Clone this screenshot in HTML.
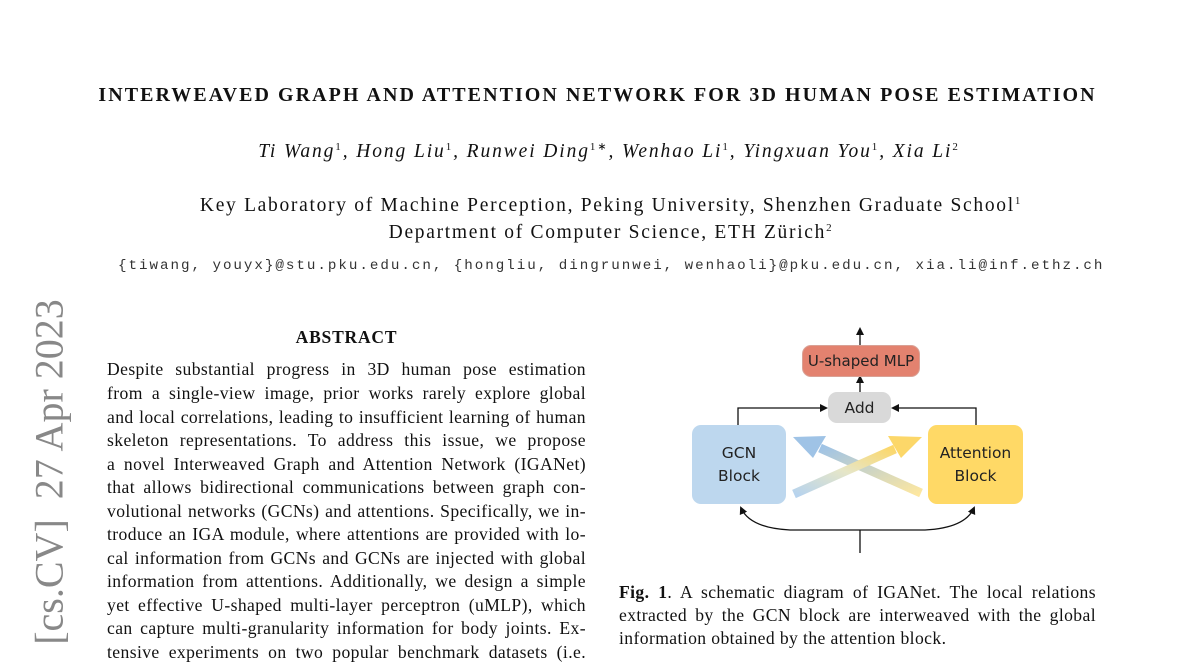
<!DOCTYPE html>
<html><head><meta charset="utf-8"><style>
body{margin:0;width:1200px;height:648px;background:#fff;position:relative;overflow:hidden;font-family:"Liberation Serif",serif;color:#111}
.a{position:absolute;white-space:nowrap}
.j{position:absolute;white-space:nowrap;text-align:justify;text-align-last:justify;font-size:17.6px;line-height:23.5px;letter-spacing:0.4px}
sup{font-size:11px;vertical-align:7px;line-height:0;font-style:normal}
.box{position:absolute;border-radius:9px;font-family:"DejaVu Sans",sans-serif;display:flex;align-items:center;justify-content:center;text-align:center;color:#222}
</style></head><body>
<div class="a" style="left:0;width:1195px;text-align:center;top:84px;font-weight:bold;font-size:20px;letter-spacing:2.05px">INTERWEAVED GRAPH AND ATTENTION NETWORK FOR 3D HUMAN POSE ESTIMATION</div>
<div class="a" style="left:0;width:1218px;text-align:center;top:141px;font-style:italic;font-size:19.5px;letter-spacing:1.9px">Ti Wang<sup>1</sup>, Hong Liu<sup>1</sup>, Runwei Ding<sup>1∗</sup>, Wenhao Li<sup>1</sup>, Yingxuan You<sup>1</sup>, Xia Li<sup>2</sup></div>
<div class="a" style="left:0;width:1222px;text-align:center;top:195px;font-size:19.5px;letter-spacing:1.7px">Key Laboratory of Machine Perception, Peking University, Shenzhen Graduate School<sup>1</sup></div>
<div class="a" style="left:0;width:1222px;text-align:center;top:222px;font-size:19.5px;letter-spacing:1.7px">Department of Computer Science, ETH Zürich<sup>2</sup></div>
<div class="a" style="left:118px;top:258px;font-family:'Liberation Mono',monospace;font-size:14.2px;letter-spacing:1.98px;color:#333">{tiwang, youyx}@stu.pku.edu.cn, {hongliu, dingrunwei, wenhaoli}@pku.edu.cn, xia.li@inf.ethz.ch</div>
<div class="a" style="left:49px;top:472px;transform:translate(-50%,-50%) rotate(-90deg);font-size:40px;color:#888">[cs.CV]&nbsp; 27 Apr 2023</div>
<div class="a" style="left:107px;width:479px;text-align:center;top:327px;font-weight:bold;font-size:17.5px;letter-spacing:0.8px">ABSTRACT</div>
<div class="j" style="left:107px;width:479px;top:358px">Despite substantial progress in 3D human pose estimation</div>
<div class="j" style="left:107px;width:479px;top:382px">from a single-view image, prior works rarely explore global</div>
<div class="j" style="left:107px;width:479px;top:406px">and local correlations, leading to insufficient learning of human</div>
<div class="j" style="left:107px;width:479px;top:429px">skeleton representations. To address this issue, we propose</div>
<div class="j" style="left:107px;width:479px;top:453px">a novel Interweaved Graph and Attention Network (IGANet)</div>
<div class="j" style="left:107px;width:479px;top:476px">that allows bidirectional communications between graph con-</div>
<div class="j" style="left:107px;width:479px;top:500px">volutional networks (GCNs) and attentions. Specifically, we in-</div>
<div class="j" style="left:107px;width:479px;top:523px">troduce an IGA module, where attentions are provided with lo-</div>
<div class="j" style="left:107px;width:479px;top:547px">cal information from GCNs and GCNs are injected with global</div>
<div class="j" style="left:107px;width:479px;top:570px">information from attentions. Additionally, we design a simple</div>
<div class="j" style="left:107px;width:479px;top:594px">yet effective U-shaped multi-layer perceptron (uMLP), which</div>
<div class="j" style="left:107px;width:479px;top:617px">can capture multi-granularity information for body joints. Ex-</div>
<div class="j" style="left:107px;width:479px;top:641px">tensive experiments on two popular benchmark datasets (i.e.</div>
<div class="j" style="left:619px;width:477px;top:581px"><b>Fig. 1</b>. A schematic diagram of IGANet. The local relations</div>
<div class="j" style="left:619px;width:477px;top:604px">extracted by the GCN block are interweaved with the global</div>
<div class="a" style="left:619px;top:627px;font-size:17.6px;line-height:23.5px;letter-spacing:0.4px">information obtained by the attention block.</div>
<svg class="a" style="left:0;top:0" width="1200" height="648">
<defs>
<linearGradient id="g1" x1="1" y1="1" x2="0" y2="0"><stop offset="0" stop-color="#fde7a0"/><stop offset="1" stop-color="#9fc3e6"/></linearGradient>
<linearGradient id="g2" x1="0" y1="1" x2="1" y2="0"><stop offset="0" stop-color="#b7d3ee"/><stop offset="0.5" stop-color="#e6e6c8"/><stop offset="1" stop-color="#fcd769"/></linearGradient>
<marker id="m" markerWidth="8" markerHeight="8" refX="6" refY="4" orient="auto" markerUnits="userSpaceOnUse"><path d="M0,0L8,4L0,8z" fill="#111"/></marker>
</defs>
<g stroke-linecap="butt">
<line x1="921" y1="493" x2="820" y2="448" stroke="url(#g1)" stroke-width="9"/>
<path d="M793,437 L826,436 L813,458 z" fill="#9fc3e6"/>
<line x1="794" y1="494" x2="895" y2="449" stroke="url(#g2)" stroke-width="9"/>
<path d="M922,437 L888,436 L901,458 z" fill="#fcd769"/>
</g>
<g stroke="#111" stroke-width="1.3" fill="none">
<line x1="860" y1="345" x2="860" y2="329" marker-end="url(#m)"/>
<line x1="860" y1="392" x2="860" y2="377" marker-end="url(#m)"/>
<polyline points="738,425 738,408 826,408" marker-end="url(#m)"/>
<polyline points="976,425 976,408 893,408" marker-end="url(#m)"/>
<line x1="860" y1="553" x2="860" y2="530"/>
<path d="M860,530 L790,530 Q750,528 741,508" marker-end="url(#m)"/>
<path d="M860,530 L925,530 Q965,528 974,508" marker-end="url(#m)"/>
</g>
</svg>
<div class="box" style="left:802px;top:345px;width:116px;height:30px;background:#e3826f;border:1px solid #d9a195;font-size:15px">U-shaped MLP</div>
<div class="box" style="left:828px;top:392px;width:63px;height:31px;background:#d9d9d9;font-size:15.5px">Add</div>
<div class="box" style="left:692px;top:425px;width:94px;height:79px;background:#bdd7ee;font-size:15.5px;line-height:23px">GCN<br>Block</div>
<div class="box" style="left:928px;top:425px;width:95px;height:79px;background:#ffd966;font-size:15.5px;line-height:23px">Attention<br>Block</div>
</body></html>
